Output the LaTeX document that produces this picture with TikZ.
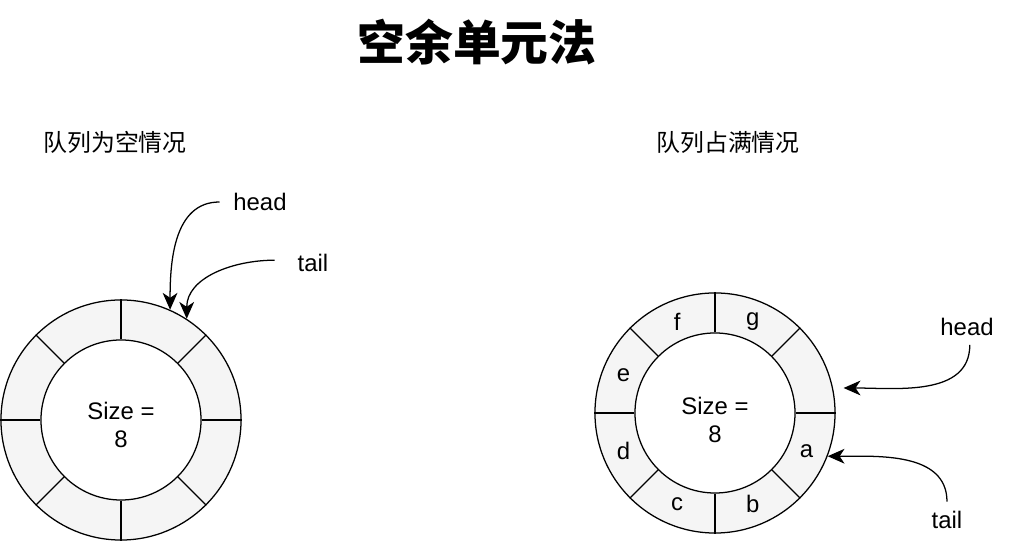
\documentclass[tikz,border=0pt]{standalone}
\usepackage{fontspec}
\setmainfont{Liberation Sans}
\newfontfamily\cjk{Noto Sans CJK SC}
\usetikzlibrary{
  arrows.meta,
  calc
}
\definecolor{slotgray}{RGB}{245,245,245}
\tikzset{
  ringbox/.style={
    circle, draw=black, fill=slotgray, line width=0.9pt,
    minimum size=6cm, inner sep=0pt
  },
  corebox/.style={
    circle, draw=black, fill=white, line width=0.9pt,
    minimum size=4cm, inner sep=0pt
  },
  sizelabel/.style={
    align=center, font=\fontsize{17}{20}\selectfont
  },
  divider/.style={
    draw=black, line width=0.9pt
  },
  slotlabel/.style={
    font=\fontsize{17}{20}\selectfont, inner sep=0pt
  },
  ptrlabel/.style={
    font=\fontsize{17}{20}\selectfont, inner sep=2pt
  },
  ptrarrow/.style={
    -{Stealth[length=12pt,width=10.5pt,inset=3.5pt]},
    draw=black, line width=0.9pt
  },
  diagramtitle/.style={
    font=\cjk\bfseries\fontsize{34}{40}\selectfont
  },
  casetitle/.style={
    font=\cjk\fontsize{17}{20}\selectfont
  },
}

\begin{document}
\begin{tikzpicture}[x=0.025cm, y=0.025cm]

  \useasboundingbox (0,0) rectangle (1014,544);

  \node[diagramtitle] (T) at (477,502) {空余单元法};

  %% Empty queue
  \node[casetitle] (emptyT) at (115,402) {队列为空情况};
  \node[ringbox] (lring) at (121,124) {};
  \node[corebox] (lcore) at (lring.center) {};
  \foreach \a in {0,45,...,315}
    \draw[divider] (lcore.\a) -- (lring.\a);
  \node[sizelabel] (lsize) at ([yshift=-0.13cm]lcore.center) {Size =\\8};

  \node[ptrlabel] (lhead) at (260,342) {head};
  \node[ptrlabel] (ltail) at (313,281) {tail};
  \draw[ptrarrow] ([xshift=-0.27cm]lhead.west)
    to[out=180,in=90] (lring.66);
  \draw[ptrarrow] ([xshift=-0.5cm,yshift=0.07cm]ltail.west)
    to[out=180,in=90] (lring.57);

  %% Full queue
  \node[casetitle] (fullT) at (728,402) {队列占满情况};
  \node[ringbox] (rring) at (715,131) {};
  \node[corebox] (rcore) at (rring.center) {};
  \foreach \a in {0,45,...,315}
    \draw[divider] (rcore.\a) -- (rring.\a);
  \node[sizelabel] (rsize) at ([yshift=-0.17cm]rcore.center) {Size =\\8};
  \foreach \a/\t in {-22.5/a,-67.5/b,-112.5/c,-157.5/d,
                     157.5/e,112.5/f,67.5/g}
    \node[slotlabel] (slot-\t) at ($(rring.center)+(\a:99)$) {\t};

  \node[ptrlabel] (rhead) at (967,217) {head};
  \node[ptrlabel] (rtail) at (947,24) {tail};
  \coordinate (rheadtip) at ($(rring.center)+(11:131)$);
  \draw[ptrarrow] ([xshift=0.07cm,yshift=-0.15cm]rhead.south)
    to[out=-90,in=0] (rheadtip);
  \draw[ptrarrow] ([yshift=0.16cm]rtail.north)
    to[out=90,in=0] (rring.-21);

\end{tikzpicture}
\end{document}
